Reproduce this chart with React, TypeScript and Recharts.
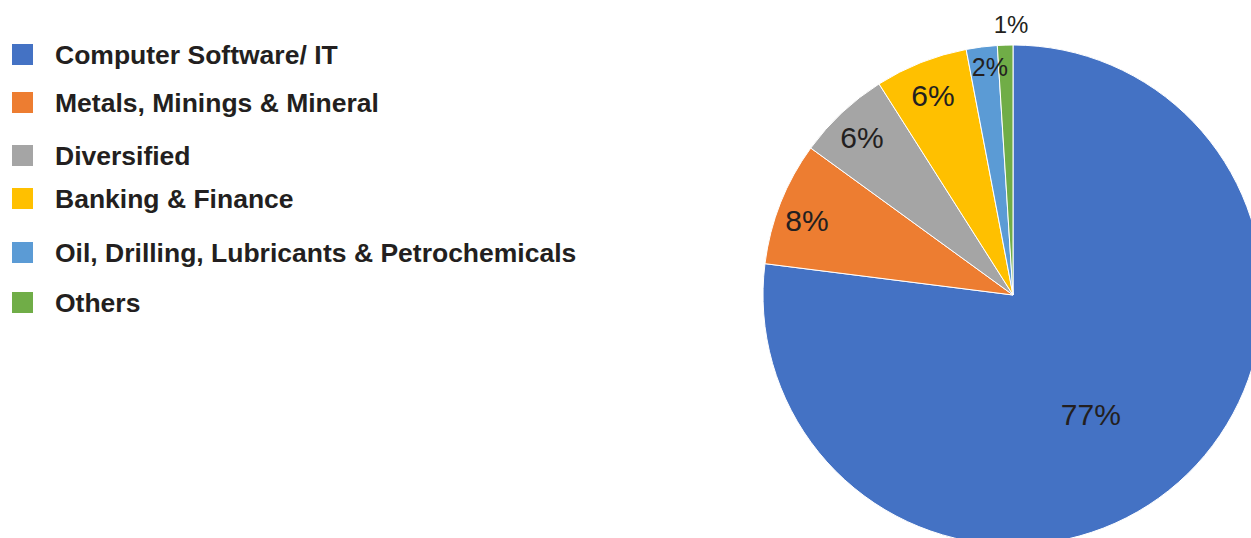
import React from "react";
import { PieChart, Pie, Cell, Legend } from "recharts";

const categories = [
  "Computer Software/ IT",
  "Metals, Minings & Mineral",
  "Diversified",
  "Banking & Finance",
  "Oil, Drilling, Lubricants & Petrochemicals",
  "Others",
];
const shares = [77, 8, 6, 6, 2, 1];
const labels = ["77%", "8%", "6%", "6%", "2%", "1%"];

const colors = ["#4472C4", "#ED7D31", "#A5A5A5", "#FFC000", "#5B9BD5", "#70AD47"];
const labelRadius = [0.569, 0.876, 0.874, 0.858, 0.917, 1.084];
const labelAngleShift = [-8.2, 1.8, 0.5, 0.3, -1.4, -1.4];
const labelSize = [30, 30, 30, 30, 25, 24];
const legendCenters = [54.5, 102.5, 155.5, 198.5, 252.5, 302.5];

const data = categories.map((name, i) => ({ name, value: shares[i], label: labels[i] }));

const RAD = Math.PI / 180;

const renderLabel = (props: any) => {
  const { cx, cy, midAngle, outerRadius, index } = props;
  const a = (midAngle + labelAngleShift[index]) * RAD;
  const r = outerRadius * labelRadius[index];
  const x = cx + r * Math.cos(a);
  const y = cy - r * Math.sin(a);
  return (
    <text
      x={x}
      y={y}
      fill="#231f20"
      fontSize={labelSize[index]}
      fontFamily="'Liberation Sans', Arial, sans-serif"
      textAnchor="middle"
      dominantBaseline="central"
    >
      {data[index].label}
    </text>
  );
};

const renderLegend = () => (
  <div style={{ position: "relative", width: 700, height: 538 }}>
    {categories.map((c, i) => (
      <div
        key={c}
        style={{
          position: "absolute",
          left: 12,
          top: legendCenters[i] - 20,
          height: 40,
          display: "flex",
          alignItems: "center",
          whiteSpace: "nowrap",
        }}
      >
        <div style={{ width: 21, height: 21, background: colors[i] }} />
        <span
          style={{
            marginLeft: 22,
            fontFamily: "'Liberation Sans', Arial, sans-serif",
            fontWeight: 700,
            fontSize: 26.5,
            color: "#231f20",
            lineHeight: "40px",
          }}
        >
          {c}
        </span>
      </div>
    ))}
  </div>
);

export default function App() {
  return (
    <div style={{ position: "absolute", left: 0, top: 0, width: 1251, height: 538, background: "#fff" }}>
      <PieChart width={1251} height={538} margin={{ top: 0, right: 0, bottom: 0, left: 0 }}>
        <Pie
          data={data}
          dataKey="value"
          nameKey="name"
          cx={1013}
          cy={295}
          outerRadius={250}
          startAngle={90}
          endAngle={-270}
          stroke="#ffffff"
          strokeWidth={1}
          label={renderLabel}
          labelLine={false}
          isAnimationActive={false}
        >
          {data.map((d, i) => (
            <Cell key={d.name} fill={colors[i]} />
          ))}
        </Pie>
        <Legend
          content={renderLegend}
          wrapperStyle={{ position: "absolute", left: 0, top: 0, width: 700, height: 538 }}
        />
      </PieChart>
    </div>
  );
}
